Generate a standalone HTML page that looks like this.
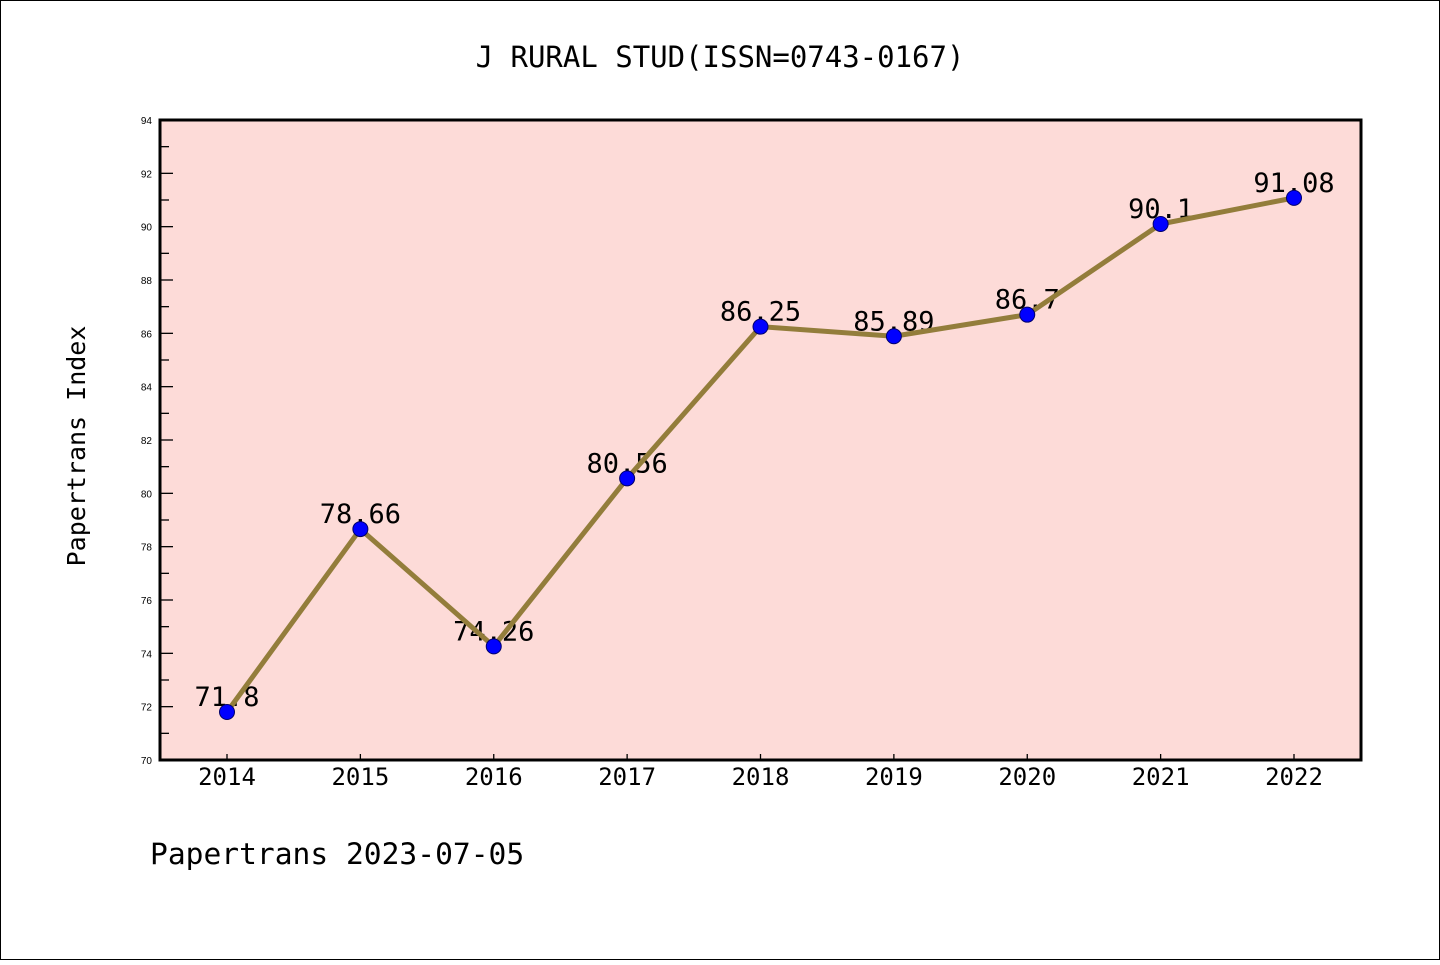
<!DOCTYPE html>
<html><head><meta charset="utf-8"><style>
html,body{margin:0;padding:0;background:#fff}
svg text{font-family:"WenQuanYi Zen Hei Mono","DejaVu Sans Mono","Liberation Mono",monospace}
svg text.yl{font-family:"Liberation Sans",sans-serif}
</style></head><body>
<svg width="1440" height="960" viewBox="0 0 1440 960">
<rect x="0.5" y="0.5" width="1439" height="959" fill="#fff" stroke="#000" stroke-width="1"/>
<text x="720" y="67" font-size="29" text-anchor="middle">J RURAL STUD(ISSN=0743-0167)</text>
<rect x="160" y="120" width="1201" height="640" fill="#fddbd8"/>
<g id="axes"></g>
<g id="marks"></g>
<rect x="160" y="120" width="1201" height="640" fill="none" stroke="#000" stroke-width="3"/>
<text x="85" y="446" font-size="25" text-anchor="middle" transform="rotate(-90 85 446)">Papertrans Index</text>
<text x="150" y="864" font-size="29.6">Papertrans 2023-07-05</text>
</svg>
<script>
const years = ["2014","2015","2016","2017","2018","2019","2020","2021","2022"];
const values = [71.8,78.66,74.26,80.56,86.25,85.89,86.7,90.1,91.08];
const valueLabels = ["71.8","78.66","74.26","80.56","86.25","85.89","86.7","90.1","91.08"];
const yTicks = [70,72,74,76,78,80,82,84,86,88,90,92,94];
const NS="http://www.w3.org/2000/svg";
const yMin=70,yMax=94,plotTop=120,plotBot=760;
function ys(v){return plotBot-(v-yMin)/(yMax-yMin)*(plotBot-plotTop);}
function xs(i){return 227+i*(1294-227)/(years.length-1);}
function mk(t,a,p){const e=document.createElementNS(NS,t);for(const k in a)e.setAttribute(k,a[k]);p.appendChild(e);return e;}
const ax=document.getElementById('axes'),mg=document.getElementById('marks');
for(let v=yMin;v<=yMax;v++){
  const major=(v%2===0);
  const l=mk('line',{x1:160,x2:major?173:169,y1:ys(v),y2:ys(v),stroke:'#000','stroke-width':1.3},ax);
  
  
}
yTicks.forEach(v=>{
  const t=mk('text',{x:152,y:ys(v)+4,'font-size':10,'text-anchor':'end','class':'yl'},ax);
  t.textContent=v;
  
  
});
years.forEach((y,i)=>{
  const l=mk('line',{x1:xs(i),x2:xs(i),y1:760,y2:754,stroke:'#000','stroke-width':1.3},ax);
  
  
  const t=mk('text',{x:xs(i),y:785,'font-size':24,'text-anchor':'middle'},ax);
  t.textContent=y;
  
  
});
values.forEach((v,i)=>{
  const t=mk('text',{x:xs(i),y:ys(v)-6,'font-size':27,'text-anchor':'middle'},mg);
  t.textContent=valueLabels[i];
  
  
});
const line=mk('polyline',{points:values.map((v,i)=>xs(i)+','+ys(v)).join(' '),fill:'none',stroke:'#937d3b','stroke-width':5,'stroke-linejoin':'round'},mg);


values.forEach((v,i)=>{
  const c=mk('circle',{cx:xs(i),cy:ys(v),r:7.5,fill:'#0000ff',stroke:'#00006a','stroke-width':1},mg);
  
  
});
</script>
</body></html>
